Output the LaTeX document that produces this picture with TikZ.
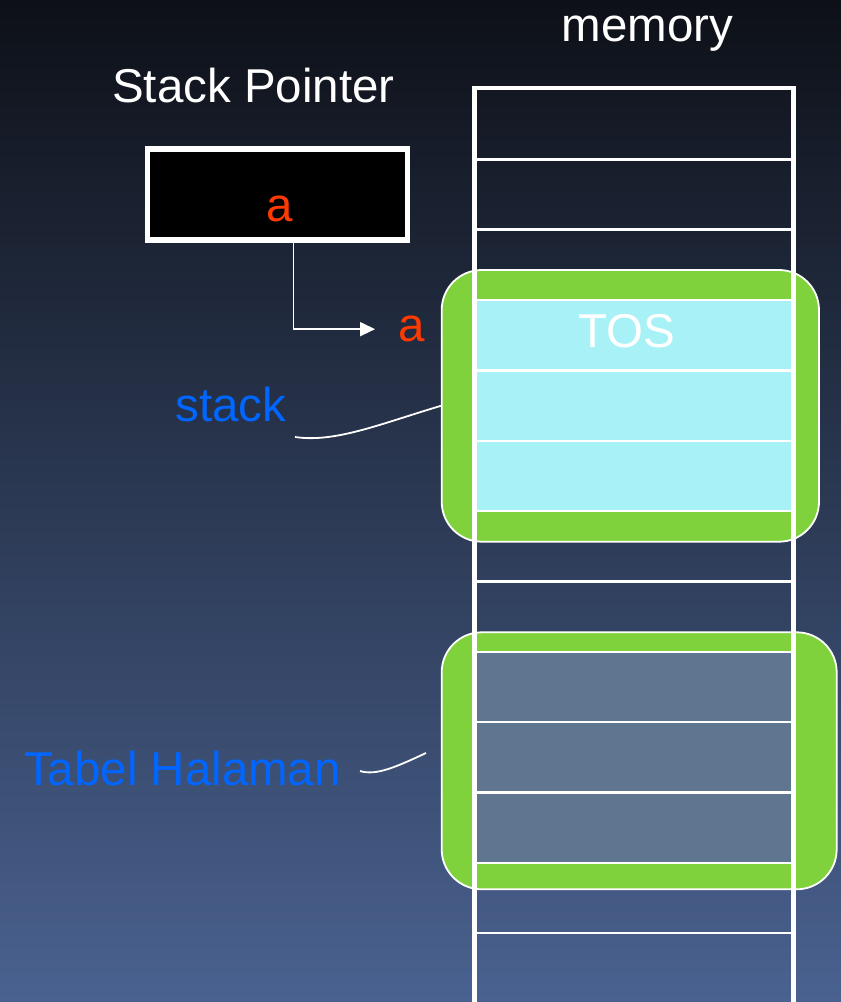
\documentclass[tikz,border=0pt]{standalone}
\usepackage{fontspec}
\setmainfont{Liberation Sans}
\usepackage{tikz}
\usetikzlibrary{positioning}
\usetikzlibrary{arrows.meta}
\definecolor{bgtop}{HTML}{0D1017}
\definecolor{bgbot}{HTML}{4A6290}
\definecolor{regiongreen}{HTML}{7FD23C}
\definecolor{stackcyan}{HTML}{A8F2F7}
\definecolor{tableslate}{HTML}{607690}
\definecolor{addrred}{HTML}{FF3A00}
\definecolor{labelblue}{HTML}{0066FF}
\tikzset{
  memcell/.style={rectangle,draw=white,line width=2.5pt,inner sep=0pt,
                  minimum width=317pt,minimum height=70.35pt},
  stackcell/.style={memcell,fill=stackcyan},
  tablecell/.style={memcell,fill=tableslate},
  memwall/.style={draw=white,line width=4.5pt,line join=miter},
  region/.style={rectangle,rounded corners=40pt,draw=white,line width=1.8pt,
                 fill=regiongreen,inner sep=0pt},
  ptrbox/.style={rectangle,draw=white,line width=5.5pt,fill=black,inner sep=0pt,
                 minimum width=260pt,minimum height=91pt},
  title/.style={text=white,inner sep=0pt,anchor=base},
  addr/.style={text=addrred,inner sep=0pt,anchor=base},
  note/.style={text=labelblue,inner sep=0pt,anchor=base},
  ptrarrow/.style={>={Triangle[length=15pt,width=14pt]},line width=1.5pt,->,white},
  callout/.style={white,line width=1.8pt},
}

\begin{document}
\begin{tikzpicture}
    [x=1pt,y=-1pt,font=\fontsize{47.5}{57}\selectfont]
  \useasboundingbox (0,0) rectangle (841,1002);
  \fill[top color=bgtop,bottom color=bgbot] (0,0) rectangle (841,1002);

  % stack and page table regions
  \node[region,minimum width=377.3pt,minimum height=271.7pt] (stk) at (630.35,405.85) {};
  \node[region,minimum width=395pt,minimum height=257pt]     (tbl) at (639.2,760.8)   {};

  % memory cells
  \foreach \i in {0,1,2,6,7,11,12}
    \node[memcell] (m\i) at (634,{124.175+70.35*\i}) {};
  \foreach \i in {3,4,5}
    \node[stackcell] (m\i) at (634,{124.175+70.35*\i}) {};
  \foreach \i in {8,9,10}
    \node[tablecell] (m\i) at (634,{124.175+70.35*\i}) {};
  \draw[memwall] (m12.south west) -- (m0.north west) -- (m0.north east) -- (m12.south east);

  % labels
  \node[title] (memlbl) at (647.5,41)  {memory};
  \node[title] (splbl)  at (253.5,102) {Stack Pointer};
  \node[title] (toslbl) at (626.5,347) {TOS};
  \node[note]  (stklbl) at (231,421.7) {stack};
  \node[note]  (tbllbl) at (182.5,785) {Tabel Halaman};

  % stack pointer register
  \node[ptrbox] (sp) at (277.5,194.5) {};
  \node[addr] (spval)  at (280,221.7)   {a};
  \node[addr] (tosval) at (411.5,341.7) {a};
  \draw[ptrarrow] ([xshift=16pt]sp.south) |- ([xshift=-23pt]tosval.west);

  % callouts
  \coordinate (stktail) at (295,437);
  \coordinate (tbltail) at (360,771);
  \coordinate (tblhead) at (426,753);
  \draw[callout] (stktail) .. controls (335,443) and (380,424) .. (stk.west);
  \draw[callout] (tbltail) .. controls (376,776) and (396,767) .. (tblhead);
\end{tikzpicture}
\end{document}
